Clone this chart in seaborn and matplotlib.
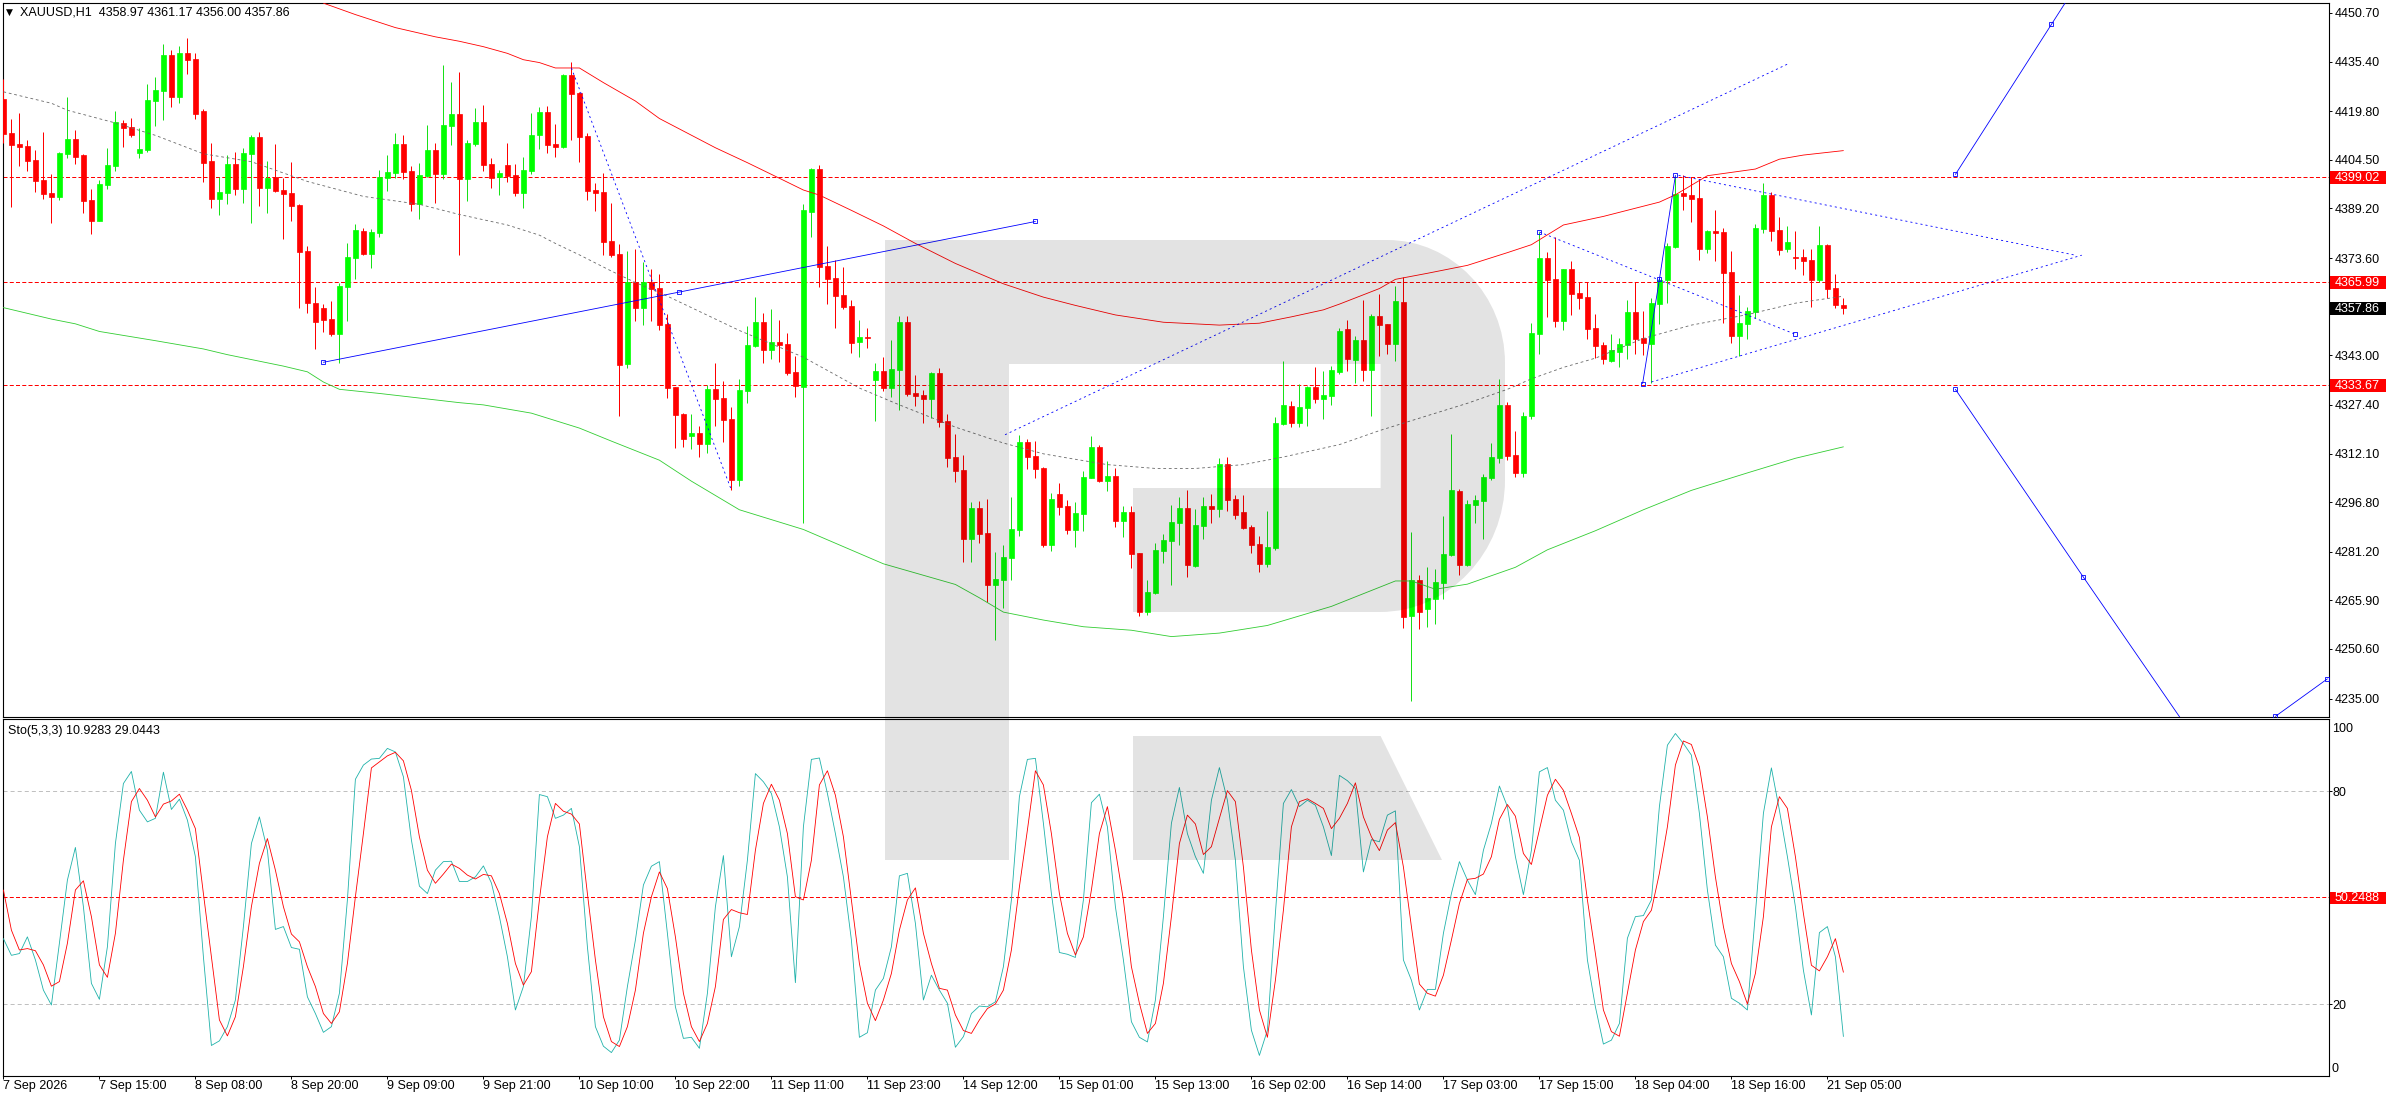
import numpy as np
import pandas as pd
import matplotlib
matplotlib.use("Agg")
import matplotlib.pyplot as plt
import seaborn as sns
from matplotlib.patches import PathPatch, Rectangle
from matplotlib.path import Path
from matplotlib.transforms import Affine2D, blended_transform_factory

# candles, XAUUSD H1
opens = [
    4423.6,4412.9,4409.5,4408.8,4404.4,4398.1,4394.1,4392.8,4406.3,4411,
    4406,4391.8,4385.2,4396.6,4402.5,4416.1,4414.8,4406.6,4407.6,4423,
    4426.2,4437.5,4424.3,4438.1,4436.2,4419.9,4404.1,4392.2,4394.1,4403.2,
    4395.3,4406.3,4411.7,4395.6,4399,4395,4394.1,4390.3,4375.8,4359.4,
    4357.9,4354.4,4349.7,4364.5,4373.6,4382.1,4374.8,4381.5,4398.8,4400.3,
    4409.5,4401,4390.6,4399.4,4407.6,4400,4415.1,4418.9,4398.5,4409.5,
    4416.4,4403.2,4399.1,4402.9,4399.7,4394,4401,4412.3,4419.5,4409.5,
    4408.5,4431.2,4425.5,4412,4395,4394.4,4378.9,4374.9,4340.3,4366.1,
    4357.9,4366.1,4364.2,4352.8,4333,4324.5,4317.6,4318.5,4315.1,4332.4,
    4329.5,4322.9,4303.7,4331.8,4345.9,4353.5,4344.7,4347.2,4346.5,4337.7,
    4333,4388.2,4401.6,4371.1,4367.3,4362,4358.5,4347.2,4348.7,4335.2,
    4338,4332.7,4338.4,4353.5,4331.1,4330.5,4329.3,4337.5,4322.4,4311,
    4306.9,4285.2,4295,4287.1,4270.7,4272.3,4279.2,4288.1,4315.7,4311.3,
    4307.6,4283.3,4299.4,4295.6,4288.1,4293.1,4304.4,4314.2,4303.5,4305,
    4290.9,4293.7,4280.8,4262.2,4268.2,4281.4,4284.6,4290.3,4295,4276.7,
    4289.3,4295.6,4294.7,4308.8,4297.8,4293.7,4288.9,4283.6,4277.3,4282.3,
    4321.4,4327,4321.7,4326.4,4333,4329.2,4330.2,4337.8,4351.3,4341.5,
    4347.9,4338.3,4355.4,4352.8,4346.6,4359.7,4260.9,4272.3,4263.1,4266.3,
    4271.3,4280.1,4300.3,4277,4295.9,4297.1,4304.4,4310.7,4327.3,4311.6,
    4305.9,4323.9,4349.7,4373.6,4367,4353.8,4370.1,4362.6,4361.3,4351.6,
    4346.2,4341.2,4344,4346.2,4356.6,4348.4,4346.5,4359.1,4366.7,4377,
    4394,4393.4,4392.5,4376.4,4382.1,4381.8,4369.2,4349.1,4352.8,4356.6,
    4382.6,4393.4,4382.4,4376.4,4373.9,4373.9,4373,4366.7,4377.7,4364.2,4358.97,
]
closes = [
    4412.6,4409.2,4408.5,4404.1,4397.8,4393.7,4392.8,4406.6,4411,4405.4,
    4391.5,4385.2,4396.9,4402.9,4416.4,4414.5,4412.3,4407.9,4423.3,4426.5,
    4437.5,4424.3,4438.1,4435.9,4418.9,4403.5,4392.2,4394.4,4403.2,4395.3,
    4406.6,4411.7,4395.6,4398.8,4394.7,4393.7,4390,4375.5,4359.4,4353.4,
    4354.1,4349.7,4364.8,4373.9,4382.4,4374.8,4381.8,4399.1,4400.7,4409.5,
    4400.7,4390.6,4399.7,4407.6,4400,4415.4,4418.9,4398.5,4409.8,4416.4,
    4402.9,4398.8,4400.3,4399.4,4394,4401.3,4412.3,4419.5,4409.2,4408.5,
    4431.2,4425.2,4411.7,4394.7,4394,4378.6,4374.5,4339.9,4366.1,4357.9,
    4366.1,4363.9,4352.5,4332.7,4324.2,4316.6,4318.5,4315.1,4332.4,4329.2,
    4322.6,4303.7,4332.1,4346.2,4353.5,4344.7,4347.2,4346.2,4337.4,4333.3,
    4388.7,4401.6,4370.9,4367,4361.6,4358.2,4346.9,4348.7,4348.4,4338,
    4332.7,4338.7,4353.5,4330.8,4330.2,4329.3,4337.5,4322,4310.7,4306.6,
    4285.2,4295,4286.8,4270.7,4272.6,4279.6,4288.4,4315.7,4311,4307.3,
    4283.3,4297.8,4295.3,4288.1,4293.4,4304.7,4314.2,4303.5,4305,4290.9,
    4293.7,4280.5,4262.2,4268.5,4281.8,4284.9,4290.6,4295,4277,4289.6,
    4295.6,4294.7,4308.8,4297.5,4292.8,4288.6,4283.3,4277.3,4282.6,4321.7,
    4327.3,4321.7,4326.7,4333,4329.2,4330.5,4338.3,4350.6,4341.7,4347.9,
    4338.3,4355.4,4352.5,4346.6,4360,4260.6,4272.3,4262.2,4266.6,4271.6,
    4280.4,4300.6,4277,4296.2,4297.4,4304.7,4311,4327.3,4311.3,4305.9,
    4323.9,4350,4373.6,4366.7,4353.8,4370.1,4362.3,4361,4351.3,4345.9,
    4341.8,4344.6,4346.5,4356.6,4348.1,4346.9,4359.4,4366.7,4377.4,4393.8,
    4393.1,4392.2,4376.4,4382.1,4381.5,4368.9,4349.1,4353.1,4356.9,4383,
    4393.5,4382.1,4376.1,4378.6,4373.6,4372.7,4366.7,4377.7,4363.8,4358.8,4357.86,
]
highs = [
    4429.9,4417.3,4419.1,4410.7,4407.6,4413.2,4400,4407,4424.3,4413.9,
    4406.3,4395.3,4398.1,4408.2,4419.9,4417,4417.7,4414.5,4428.4,4430.6,
    4440.9,4439.1,4440.3,4442.9,4438.1,4420.5,4409.8,4399.1,4406,4407,
    4408.2,4412.3,4413.2,4404.1,4409.5,4398.8,4403.8,4390.6,4377.4,4364.5,
    4359.1,4360.1,4365.7,4378.3,4384.3,4383,4382.7,4401.3,4406,4412.9,
    4412.3,4402.5,4403.5,4415.4,4409.8,4434.3,4429,4432.1,4410.7,4420.8,
    4421.7,4405.1,4401.3,4409.8,4403.2,4405.4,4419.2,4421.1,4421.4,4415.8,
    4431.5,4435.3,4425.8,4412.9,4397.2,4400.3,4390.9,4378,4375.8,4376.4,
    4372.3,4370.1,4368.6,4356,4333,4324.8,4324.5,4320.7,4333.6,4340.6,
    4334.9,4326.7,4335.5,4352.2,4361.3,4356.3,4357.6,4354.1,4350,4342.8,
    4390.6,4401.8,4402.9,4377.4,4373,4370.8,4360.4,4354.1,4351.6,4340.6,
    4342.5,4347.8,4355.4,4355.4,4336.8,4332.1,4337.8,4339,4324.6,4318.3,
    4311.7,4296.9,4297.2,4297.8,4281.1,4283.3,4298.4,4318,4316.7,4316.1,
    4307.9,4299.7,4302.8,4297.5,4296.9,4306.6,4317.6,4314.8,4309.8,4307.6,
    4295.6,4295.6,4280.8,4272.3,4284,4286.8,4295.9,4298.4,4300.6,4294.7,
    4298.4,4299.4,4310.7,4311,4299.1,4299,4289.6,4286.1,4294,4323.6,
    4341.2,4328.6,4333.9,4333.3,4339.3,4338,4339.6,4351.5,4354,4349,
    4360.4,4356.1,4362.3,4353,4364.8,4367.7,4287.4,4273.8,4276.4,4275.7,
    4292.4,4318.2,4300.9,4297.4,4299,4305.6,4315.4,4335.6,4328.3,4319.2,
    4325.1,4353.2,4381.8,4375.5,4380.2,4370.1,4372.7,4366,4366,4356,
    4347.2,4349.7,4348.4,4360.4,4366,4356.9,4361,4367.2,4378.3,4399.5,
    4399.6,4399.2,4398.6,4382.4,4388.7,4383,4375.8,4362,4358.2,4384.3,
    4397.1,4394.4,4386.5,4383.7,4382.1,4376.4,4376.4,4383.7,4378,4368.6,4361.17,
]
lows = [
    4409.9,4389.7,4402.5,4401,4394.4,4392.2,4384.6,4391.8,4405.1,4403.2,
    4387.8,4381.1,4385.2,4395.3,4401,4408.5,4411.7,4405.1,4407,4415.1,
    4417,4421.1,4422.4,4431.5,4417.3,4397.5,4389.3,4387.1,4390.6,4393.4,
    4390.9,4384.6,4390,4387.8,4394.4,4379.6,4385.2,4358,4356.3,4345,
    4350.3,4349,4340.5,4353.8,4367,4374.5,4370.4,4380.2,4394.7,4398.8,
    4398.5,4388.4,4385.9,4399.2,4390.9,4398.5,4409.2,4374.5,4391.5,4408.8,
    4401,4395.6,4393.4,4397.5,4393.1,4389.3,4400,4407.9,4406.6,4405.4,
    4408.2,4410.7,4403.8,4391.8,4388.4,4374.5,4373.9,4323.9,4339,4353.8,
    4352.5,4353.8,4350.9,4329.5,4313.8,4314.1,4313.5,4311,4312.2,4320.7,
    4315.7,4300.6,4301.9,4328,4345.6,4340.6,4341.8,4340.9,4336.8,4329.9,
    4290.2,4380.2,4364.5,4359.1,4351.6,4357.6,4343.7,4342.5,4345.3,4322.3,
    4331.8,4329.9,4325.8,4330.2,4327,4321.7,4323.3,4320.5,4307.9,4303.2,
    4278,4278,4284,4265.4,4253.4,4263.5,4272.3,4286.2,4307.3,4304.4,
    4282.7,4281.4,4292.8,4286.8,4282.7,4287.7,4304.3,4303.2,4300.3,4289,
    4285.9,4276.1,4261,4261.3,4268,4277.7,4270.7,4283.3,4273.3,4276.4,
    4285.2,4290.3,4292.1,4294,4291.5,4288.2,4280.8,4274.8,4276.4,4281.7,
    4321.2,4320.4,4320.4,4320.7,4328,4322.9,4327.3,4337.2,4338,4334.4,
    4334.9,4324,4342.8,4343.4,4341.2,4257.2,4234.2,4256.8,4257.5,4258.4,
    4266.3,4280,4273.8,4276.7,4290.2,4285.2,4303.7,4309.1,4310,4304.7,
    4304.7,4323,4343.4,4355,4351.9,4350.9,4355.7,4357.6,4348.1,4342.1,
    4340.2,4341,4339.3,4341.8,4343.4,4343.1,4334.3,4352.8,4359.4,4376.8,
    4388.8,4384.9,4373,4375.2,4372.7,4353.1,4346.9,4342.8,4348.1,4354.7,
    4381.5,4378.9,4374.5,4375.5,4370.1,4368.3,4358.2,4366,4360.9,4357.9,4356,
]

# stochastic
sto_k = [
    38.5,33.8,34.3,39,32.5,24,19.8,37.2,55,64.2,47.5,25.9,21.4,36.2,65.3,82.2,85.6,74.7,71.4,72.4,
    85.4,74.9,77.8,71.9,61.6,33.4,8.4,9.7,13.7,21.2,41.9,65.3,72.8,63.4,41.1,41.9,36,35.5,22.1,17.4,
    12.1,13.7,23.1,49.4,83.4,87.4,89.1,89.3,92.1,91.1,84.1,66.3,53.3,51.2,57.8,60.2,60.3,54.6,54.6,55.9,
    59,54.2,44.7,33.4,18.4,25,44.7,79.1,78.5,72.4,73.3,75.2,64.4,36.2,13.7,8.2,6.4,9.9,25,38.1,
    53.6,58.9,60.2,40,19.3,10.4,10.7,7.6,23.1,47.5,61.9,33.4,41.9,60.6,85,82.7,79.4,70,55.9,26.1,
    70,89,89.4,79.4,68.1,55.9,38.1,10.7,12,24,27.3,36.2,56.2,56.9,42.8,21.2,28.2,24,20.3,7.9,
    10.9,17.4,19.5,19.3,20.7,30.6,49.4,78.5,89,89.3,71,51.2,34.6,34.1,33.2,49.4,76.8,79.2,70,47.5,
    32.5,15.1,10.7,9.4,21.2,44.7,71,81.1,68.1,61.6,56.9,77.5,86.7,77.5,60.6,30.6,12.7,5.6,12.7,45.6,
    76.6,80.5,75.7,77.5,76.1,70,61.9,84.5,83,80.8,57.3,66.4,65.8,73.3,74.5,32.5,26.8,18.4,24.2,24.2,
    40,51.2,60.2,55,50.9,63.4,71,81.5,75.7,61.6,50.9,63.4,85.5,86.7,77.5,74.7,65.8,60.6,32.5,19.3,
    8.8,9.9,14.6,38.6,44.7,45,49.4,75.7,93,96.3,93.5,90.2,73.8,52.2,36.7,33.4,21.7,20.3,18.4,45.6,
    73.8,86.6,74.7,61.6,47.5,29.6,17,40.2,41.9,33.4,10.9283,
]
sto_d = [
    52.2,40.9,35.3,35.7,35.1,31.1,25.1,26.4,37.2,52.2,54.8,44.7,31.1,27.6,40,60.6,77.1,80.8,77.5,72.8,
    76.4,77.3,79.2,74.7,69.5,51.2,33.4,15.6,11.1,16.5,30.6,47.5,59.7,66.7,57.8,47.5,39.8,37.6,30.6,25,
    17.4,14.6,17.9,31.5,50.3,68.1,86.6,88.3,90,91,88.6,80.3,67.2,57.8,54.1,56.7,59.5,58.3,56.4,55.3,
    56.6,56.2,51.2,42.8,31.5,25.4,29.2,49.4,67.2,76.6,74.4,73.6,70.8,51.2,32.5,16.5,9.5,8.1,13.7,24,
    40,50.3,57.3,52.6,39,23.1,13.7,9.5,14.6,25,43.9,46.7,45.8,45.3,63.4,76.6,82,77.5,68.1,50.3,
    49.4,60.6,81.8,85.8,78.9,67.2,49.4,31.5,20.3,15.4,21.2,28.7,40.9,49.4,52.8,40,31.5,24.5,24,17,
    12.6,11.8,15.6,18.8,20.1,24,35.3,53.1,69.1,85.8,81.8,68.1,51.2,40,33.9,39,52.2,68.1,75.7,63.4,
    49.4,30.6,20.3,11.8,14.6,25.9,44.7,65.3,73.3,70.8,62.2,64.4,72.4,80.2,77.1,58.7,35.3,18.4,10.7,26.8,
    46.5,70,77.1,77.9,76.6,75.2,69.5,72.4,76.6,82.4,72.8,67.2,63.3,69.1,71.2,58.7,41.9,25.7,23.1,22.3,
    28.2,38.1,48.4,55.2,55.5,56.7,61.6,72.1,76.3,73,62.5,59.4,69.1,78.9,83.4,80.3,73.8,67,49.4,34.3,
    18.4,12.3,11,23.1,35.3,43.3,46.5,56.9,70,87.4,94.2,93.2,86.9,72.8,55.9,41.9,31.5,26.4,20.1,28.7,
    44.7,70,78.5,75.2,61.6,45.6,31,29.4,33.4,38.5,29.0443,
]

# indicator lines, read at the bars listed
upper_bars = [40,44,49,54,57,60,63,65,67,69,72,75,79,82,89,93,97,100,102,106,110,114,119,125,130,134,139,145,152,157,161,165,167,172,174,178,183,188,191,195,200,207,209,213,219,222,225,230]
upper_vals = [4453.8,4450.2,4446.1,4443.2,4441.8,4440.1,4438,4436,4435.1,4433.4,4433.4,4428.8,4423,4417.5,4408.3,4403.6,4398.7,4395,4393.4,4388.6,4383.7,4378.2,4371.9,4365.5,4361.3,4358.7,4355.7,4353.4,4352.5,4353.1,4355.1,4357.3,4359.1,4364,4366.9,4368.8,4371.3,4375.3,4377.8,4384,4386.7,4391.2,4393.5,4399.5,4401.6,4404.7,4406,4407.4]
mid_bars = [0,6,8,14,19,25,31,38,45,52,57,63,67,69,72,76,79,83,89,92,100,107,112,119,125,130,133,138,144,149,155,160,167,172,178,183,188,191,195,199,205,211,218,224,230]
mid_vals = [4425.9,4422.3,4420.1,4416.1,4412.2,4406.4,4403.9,4397.7,4393,4390.5,4387.3,4384,4380.8,4378.2,4374.6,4369.5,4365.9,4361.6,4354.4,4350.8,4342.4,4332.7,4327.4,4320.4,4315.4,4312,4310.7,4308.6,4307.4,4307.4,4308.6,4311,4314.9,4319.3,4324,4327.9,4332.3,4335.6,4339.2,4342.1,4348.3,4352.5,4355.8,4359.4,4361.6]
lower_bars = [0,6,9,12,19,25,28,35,38,40,42,47,57,60,66,72,76,82,86,92,100,105,110,119,122,125,130,135,141,146,152,158,166,174,176,179,183,189,193,199,205,211,218,224,230]
lower_vals = [4358,4354.4,4352.9,4350.5,4347.6,4345,4343.2,4339.6,4337.8,4334.6,4332.3,4331,4328.1,4327.4,4324.8,4320.1,4316,4310,4303.4,4294.4,4288.2,4282.8,4277.4,4270.9,4266.7,4262.2,4259.7,4257.6,4256.5,4254.5,4255.6,4258,4264,4272,4272,4269.4,4271,4276.3,4281.8,4287.8,4294.4,4300.5,4306,4310.6,4314.2]

# levels and axis text
level_prices = [4399.02, 4365.99, 4333.67]
last_price = 4357.86
sto_level = 50.2488
price_ticks = [4450.70,4435.40,4419.80,4404.50,4389.20,4373.60,4343.00,4327.40,4312.10,4296.80,4281.20,4265.90,4250.60,4235.00]
time_bars = list(range(0, 229, 12))
time_labels = ["7 Sep 2026","7 Sep 15:00","8 Sep 08:00","8 Sep 20:00","9 Sep 09:00","9 Sep 21:00","10 Sep 10:00","10 Sep 22:00",
               "11 Sep 11:00","11 Sep 23:00","14 Sep 12:00","15 Sep 01:00","15 Sep 13:00","16 Sep 02:00","16 Sep 14:00",
               "17 Sep 03:00","17 Sep 15:00","18 Sep 04:00","18 Sep 16:00","21 Sep 05:00"]

# drawn analysis objects: (bars, prices)
solid_objects = [
    ([40, 84.5, 129], [4340.8, 4362.9, 4385.1]),
    ([204.9, 207, 209], [4334.1, 4366.9, 4399.6]),
    ([244, 256, 262], [4399.9, 4447.1, 4470.7]),
    ([244, 260, 276], [4332.3, 4273.2, 4214.7]),
    ([284, 290.5], [4229.4, 4241.2]),
]
dotted_objects = [
    ([71, 91], [4433.4, 4300.6]),
    ([125.2, 223], [4318, 4434.6]),
    ([206, 259.8], [4334.6, 4374.5]),
    ([209.4, 258.8], [4399.6, 4374.6]),
    ([192, 224], [4381.8, 4349.6]),
]
dotted_markers = [([192, 224], [4381.8, 4349.6])]

W, H = 2392, 1100
LEFT, RIGHT = 2.5, 2328.7
BAR_X0, BAR_DX = 3.4, 8.0
RED, GREEN, BLUE = "#ff0000", "#00ff00", "#0000ff"
WICK_GREEN = "#18e018"
FONT = 9
THIN = 0.6

sns.set_theme(style="white", rc={"lines.scale_dashes": False, "axes.linewidth": 0.8,
                                 "axes.edgecolor": "black", "text.color": "black",
                                 "xtick.color": "black", "ytick.color": "black"})
plt.rcParams["font.family"] = ["Liberation Sans", "DejaVu Sans"]

fig = plt.figure(figsize=(W / 100, H / 100), dpi=100, facecolor="white")


def pane(top, bottom):
    return fig.add_axes([LEFT / W, 1 - bottom / H, (RIGHT - LEFT) / W, (bottom - top) / H])


ax = pane(2.5, 717)
ax2 = pane(719.3, 1076)
xlim = ((LEFT - BAR_X0) / BAR_DX, (RIGHT - BAR_X0) / BAR_DX)
for a in (ax, ax2):
    a.set_xlim(*xlim)
    a.set_facecolor("white")
    a.yaxis.tick_right()
ax.set_ylim(4229.2, 4454.0)
ax2.set_ylim(-0.2, 100.3)

candles = pd.DataFrame({"open": opens, "close": closes, "high": highs, "low": lows})
candles["bar"] = candles.index
up = candles["close"] >= candles["open"]
for mask, body, wick in ((up, GREEN, WICK_GREEN), (~up, RED, RED)):
    part = candles[mask]
    ax.vlines(part["bar"], part["low"], part["high"], color=wick, lw=0.72, zorder=3)
    ax.bar(part["bar"], (part["close"] - part["open"]).abs(),
           bottom=part[["open", "close"]].min(axis=1), width=0.56,
           color=body, edgecolor=body, linewidth=0.5, zorder=4)

sns.lineplot(x=upper_bars, y=upper_vals, ax=ax, color=RED, lw=THIN, zorder=5)
sns.lineplot(x=lower_bars, y=lower_vals, ax=ax, color="#32cd32", lw=THIN, zorder=5)
sns.lineplot(x=mid_bars, y=mid_vals, ax=ax, color="#696969", lw=THIN, linestyle=(0, (2.0, 2.0)), zorder=5)

for p in level_prices:
    ax.axhline(p, color=RED, lw=0.72, linestyle=(0, (2.9, 1.6)), zorder=2)

for xs, ys in dotted_objects:
    ax.plot(xs, ys, color=BLUE, lw=THIN, linestyle=(0, (1.5, 2.2)), zorder=6)
for xs, ys in solid_objects:
    ax.plot(xs, ys, color=BLUE, lw=THIN, zorder=6, marker="s", ms=3, mfc="none", mew=0.6)
for xs, ys in dotted_markers:
    ax.plot(xs, ys, ls="none", marker="s", ms=3, mfc="none", mec=BLUE, mew=0.6, zorder=6)

sto = pd.DataFrame({"bar": range(len(sto_k)), "k": sto_k, "d": sto_d})
for lvl in (80, 20):
    ax2.axhline(lvl, color="#c0c0c0", lw=0.72, linestyle=(0, (2.9, 2.2)), zorder=1)
ax2.axhline(sto_level, color=RED, lw=0.72, linestyle=(0, (2.9, 1.6)), zorder=2)
sns.lineplot(data=sto, x="bar", y="k", ax=ax2, color="#20b2aa", lw=THIN, zorder=3)
sns.lineplot(data=sto, x="bar", y="d", ax=ax2, color=RED, lw=THIN, zorder=4)

# axes furniture
ax.set_xlabel("")
ax.set_ylabel("")
ax2.set_xlabel("")
ax2.set_ylabel("")
ax.tick_params(axis="x", bottom=False, labelbottom=False)
ax.set_yticks(price_ticks)
ax.set_yticklabels([f"{v:.2f}" for v in price_ticks], fontsize=FONT)
ax.tick_params(axis="y", right=True, length=2.2, width=0.7, pad=2.2)
ax2.set_yticks([20, 80])
ax2.set_yticklabels(["20", "80"], fontsize=FONT)
ax2.tick_params(axis="y", right=True, length=2.2, width=0.7, pad=0.5)
ax2.set_xticks(time_bars)
ax2.set_xticklabels(time_labels, fontsize=FONT, ha="left")
ax2.tick_params(axis="x", bottom=True, length=2.2, width=0.7, pad=0.5)

blend = blended_transform_factory(ax.transAxes, ax.transData)
blend2 = blended_transform_factory(ax2.transAxes, ax2.transData)
box_w = 56.0 / (RIGHT - LEFT)
text_x = 1 + 5.8 / (RIGHT - LEFT)


def price_flag(a, tr, value, text, color, half, shift=0.0):
    a.add_patch(Rectangle((1.0005, value + shift - half), box_w, 2 * half, transform=tr,
                          fc=color, ec="none", clip_on=False, zorder=7))
    a.text(text_x, value + shift, text, transform=tr, color="white", fontsize=FONT,
           va="center", ha="left", zorder=8, clip_on=False)


for p in level_prices:
    price_flag(ax, blend, p, f"{p:.2f}", RED, 2.05, -0.2)
price_flag(ax, blend, last_price, f"{last_price:.2f}", "black", 2.05, -0.2)
price_flag(ax2, blend2, sto_level, f"{sto_level:.4f}", RED, 1.7, -0.3)
ax2.text(1 + 3.0 / (RIGHT - LEFT), 97.7, "100", transform=blend2, fontsize=FONT, va="center", ha="left", clip_on=False)
ax2.text(1 + 3.0 / (RIGHT - LEFT), 1.9, "0", transform=blend2, fontsize=FONT, va="center", ha="left", clip_on=False)

fig.text(6 / W, 1 - 12.5 / H, "▼", fontsize=6.5, va="center", ha="left", family=["DejaVu Sans"])
fig.text(20.5 / W, 1 - 12.5 / H, "XAUUSD,H1  4358.97 4361.17 4356.00 4357.86", fontsize=FONT, va="center", ha="left")
fig.text(7.5 / W, 1 - 730.7 / H, "Sto(5,3,3) 10.9283 29.0443", fontsize=FONT, va="center", ha="left")

# watermark over everything, both panes
to_fig = Affine2D().scale(1 / W, -1 / H).translate(0, 1) + fig.transFigure
k = 0.55
P = [
    (Path.MOVETO, (885, 240)), (Path.LINETO, (1387, 240)),
    (Path.CURVE4, (1387 + k * 118, 240)), (Path.CURVE4, (1505, 363 - k * 123)), (Path.CURVE4, (1505, 363)),
    (Path.LINETO, (1505, 480)),
    (Path.CURVE4, (1505, 480 + k * 132)), (Path.CURVE4, (1380 + k * 125, 612)), (Path.CURVE4, (1380, 612)),
    (Path.LINETO, (1133, 612)), (Path.LINETO, (1133, 488)), (Path.LINETO, (1380.6, 488)),
    (Path.LINETO, (1380.6, 364)), (Path.LINETO, (1009, 364)), (Path.LINETO, (1009, 860)),
    (Path.LINETO, (885, 860)), (Path.CLOSEPOLY, (885, 240)),
    (Path.MOVETO, (1133, 736)), (Path.LINETO, (1380.6, 736)), (Path.LINETO, (1442, 860)),
    (Path.LINETO, (1133, 860)), (Path.CLOSEPOLY, (1133, 736)),
]
codes, verts = zip(*P)
logo = PathPatch(Path(verts, codes), transform=to_fig, fc="black", ec="none", alpha=0.11, zorder=20)
fig.add_artist(logo)

fig.savefig("out.png", dpi=100, facecolor="white")
